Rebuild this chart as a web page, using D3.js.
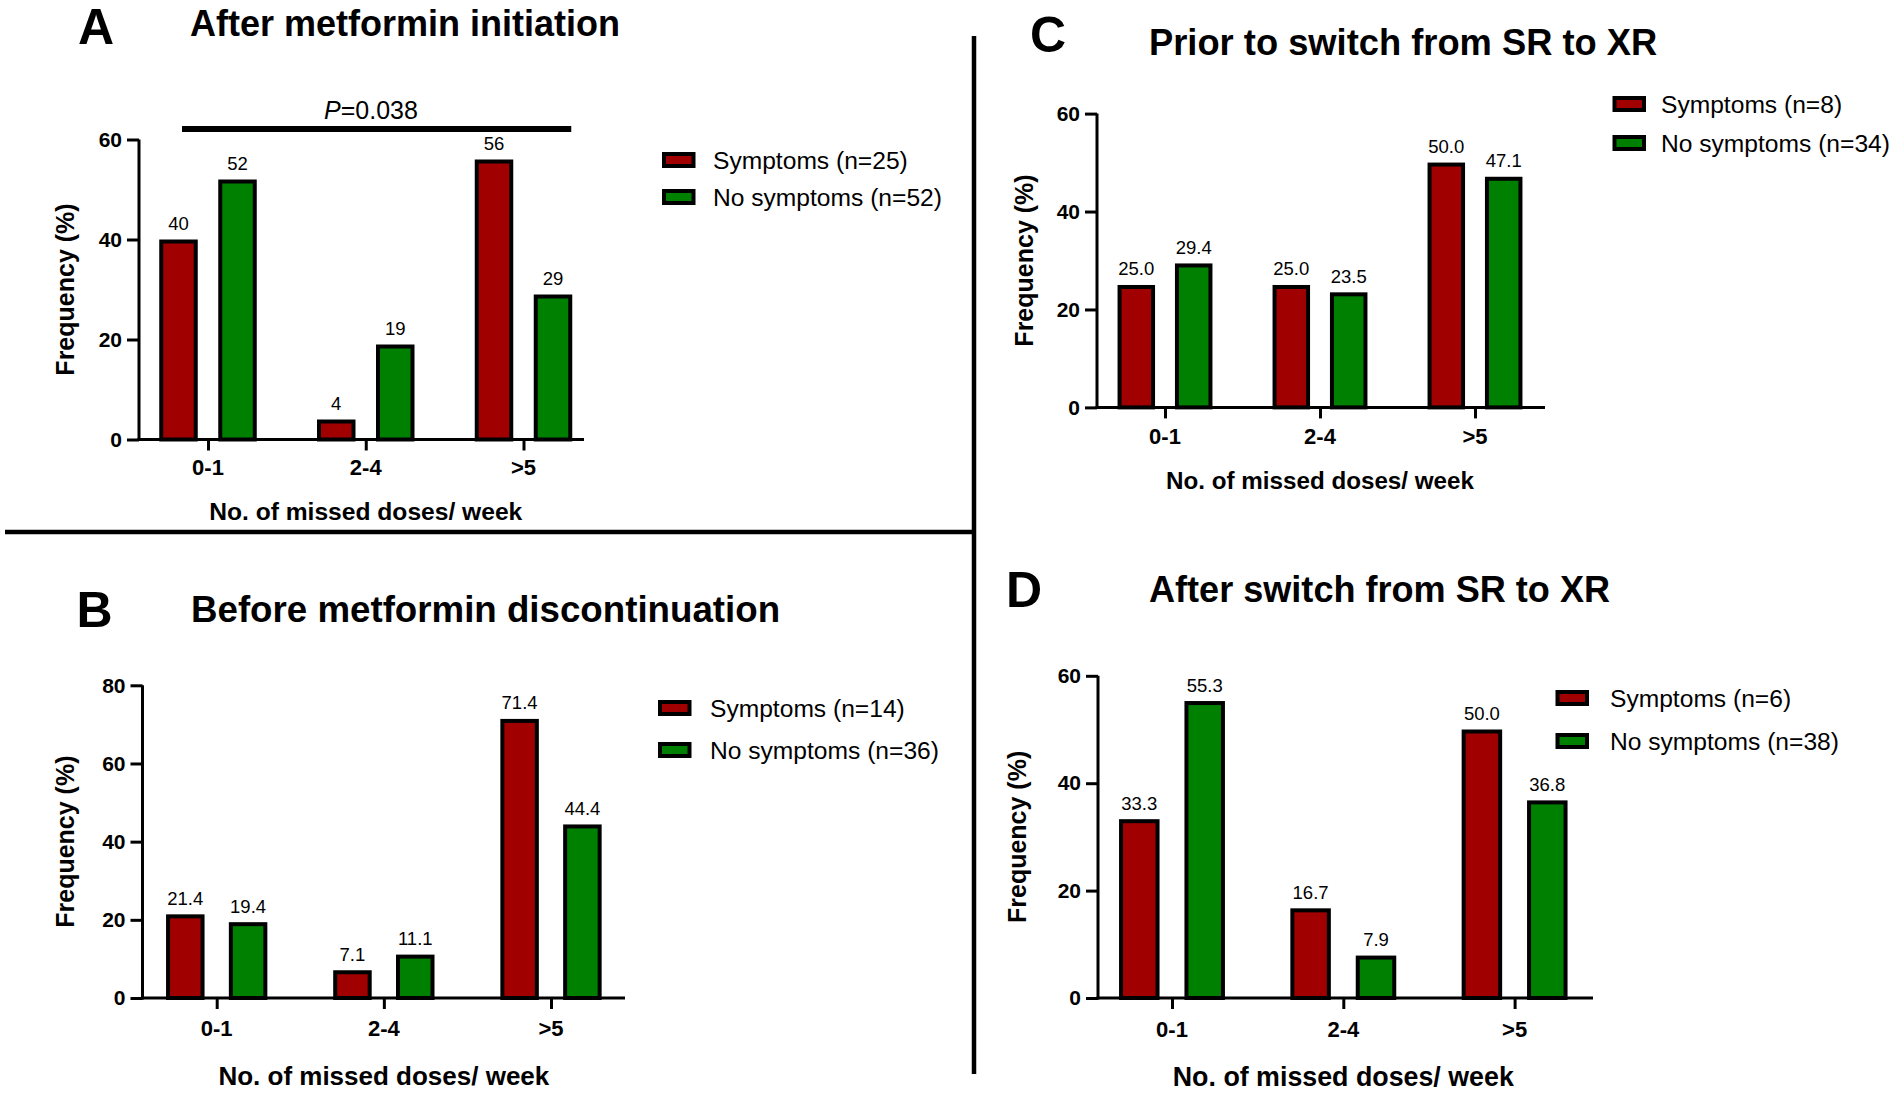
<!DOCTYPE html>
<html>
<head>
<meta charset="utf-8">
<script src="https://cdn.jsdelivr.net/npm/d3@7"></script>
<style>
  html, body { margin: 0; padding: 0; background: #fff; }
  svg { display: block; }
  text { font-family: "Liberation Sans", Arial, sans-serif; fill: #000; }
</style>
</head>
<body>
<svg id="chart" width="1892" height="1093"></svg>
<script>
// ---------------- DATA ----------------
const categories = ["0-1", "2-4", ">5"];

const panelLetters = ["A", "B", "C", "D"];
const panelTitles = [
  "After metformin initiation",
  "Before metformin discontinuation",
  "Prior to switch from SR to XR",
  "After switch from SR to XR"
];

const symptomsA = [40, 4, 56];
const noSymptomsA = [52, 19, 29];
const symptomsB = [21.4, 7.1, 71.4];
const noSymptomsB = [19.4, 11.1, 44.4];
const symptomsC = [25.0, 25.0, 50.0];
const noSymptomsC = [29.4, 23.5, 47.1];
const symptomsD = [33.3, 16.7, 50.0];
const noSymptomsD = [55.3, 7.9, 36.8];

const legendA = ["Symptoms (n=25)", "No symptoms (n=52)"];
const legendB = ["Symptoms (n=14)", "No symptoms (n=36)"];
const legendC = ["Symptoms (n=8)", "No symptoms (n=34)"];
const legendD = ["Symptoms (n=6)", "No symptoms (n=38)"];

const yTicksA = [0, 20, 40, 60];
const yTicksB = [0, 20, 40, 60, 80];
const yTicksC = [0, 20, 40, 60];
const yTicksD = [0, 20, 40, 60];

const pValueA = "0.038";
const yAxisTitle = "Frequency (%)";
const xAxisTitle = "No. of missed doses/ week";

// ---------------- STYLE / LAYOUT ----------------
const RED = "#a00000";
const GREEN = "#008000";

const panels = [
  { letter: panelLetters[0], title: panelTitles[0], s: symptomsA, n: noSymptomsA, legend: legendA, ticks: yTicksA, fmt: d3.format("d"),
    axisX: 139, axisRight: 584, y0: 439.5, yTop: 139.5, c0: 208, c2: 523.5, off: 29.5, bw: 38.5,
    letterX: 78, letterY: 44, titleX: 190, titleY: 36, titleFs: 36,
    legX: 662, legY: [152, 189], legTextX: 713,
    yLabX: 74, catY: 475, xTitleY: 520, xTitleFs: 24.6 },
  { letter: panelLetters[1], title: panelTitles[1], s: symptomsB, n: noSymptomsB, legend: legendB, ticks: yTicksB, fmt: d3.format(".1f"),
    axisX: 142.5, axisRight: 625, y0: 998, yTop: 685.3, c0: 216.7, c2: 551, off: 31.4, bw: 38.5,
    letterX: 76.5, letterY: 627, titleX: 191, titleY: 622, titleFs: 36.7,
    legX: 658, legY: [700, 742], legTextX: 710,
    yLabX: 74, catY: 1035.5, xTitleY: 1085, xTitleFs: 26 },
  { letter: panelLetters[2], title: panelTitles[2], s: symptomsC, n: noSymptomsC, legend: legendC, ticks: yTicksC, fmt: d3.format(".1f"),
    axisX: 1097, axisRight: 1545, y0: 407.4, yTop: 113.6, c0: 1165, c2: 1475, off: 28.7, bw: 37.5,
    letterX: 1030, letterY: 52, titleX: 1149, titleY: 55, titleFs: 36.3,
    legX: 1612.5, legY: [96, 135], legTextX: 1661,
    yLabX: 1033, catY: 444, xTitleY: 489, xTitleFs: 24.2 },
  { letter: panelLetters[3], title: panelTitles[3], s: symptomsD, n: noSymptomsD, legend: legendD, ticks: yTicksD, fmt: d3.format(".1f"),
    axisX: 1098, axisRight: 1593, y0: 998, yTop: 675.8, c0: 1172, c2: 1514.6, off: 32.7, bw: 40.5,
    letterX: 1006, letterY: 607, titleX: 1149, titleY: 602, titleFs: 36.1,
    legX: 1555.5, legY: [690, 733], legTextX: 1610,
    yLabX: 1026, catY: 1036.6, xTitleY: 1086, xTitleFs: 26.8 }
];

const svg = d3.select("#chart");

// separators
svg.append("line").attr("x1", 5).attr("x2", 976).attr("y1", 532).attr("y2", 532)
  .attr("stroke", "#000").attr("stroke-width", 4.5);
svg.append("line").attr("x1", 974).attr("x2", 974).attr("y1", 36).attr("y2", 1074)
  .attr("stroke", "#000").attr("stroke-width", 4.5);

panels.forEach((p, pi) => {
  const g = svg.append("g");
  const yMax = d3.max(p.ticks);
  const y = d3.scaleLinear().domain([0, yMax]).range([p.y0, p.yTop]);
  const x = d3.scalePoint().domain(categories).range([p.c0, p.c2]);
  const series = [
    { key: "s", values: p.s, color: RED, dx: -p.off },
    { key: "n", values: p.n, color: GREEN, dx: p.off }
  ];

  // letter + title
  g.append("text").attr("x", p.letterX).attr("y", p.letterY)
    .attr("font-size", 50).attr("font-weight", "bold").text(p.letter);
  g.append("text").attr("x", p.titleX).attr("y", p.titleY)
    .attr("font-size", p.titleFs).attr("font-weight", "bold").text(p.title);

  // bars
  const sw = 4;
  series.forEach(se => {
    g.selectAll(null).data(categories.map((c, i) => ({ c, v: se.values[i] })))
      .enter().append("rect")
      .attr("x", d => x(d.c) + se.dx - p.bw / 2 + sw / 2)
      .attr("width", p.bw - sw)
      .attr("y", d => y(d.v) + sw / 2)
      .attr("height", d => Math.max(0, y(0) - y(d.v) - sw / 2))
      .attr("fill", se.color)
      .attr("stroke", "#000").attr("stroke-width", sw);
    g.selectAll(null).data(categories.map((c, i) => ({ c, v: se.values[i] })))
      .enter().append("text")
      .attr("x", d => x(d.c) + se.dx)
      .attr("y", d => y(d.v) - 9.5)
      .attr("text-anchor", "middle")
      .attr("font-size", 18.5)
      .text(d => p.fmt(d.v));
  });

  // y axis
  const yAxis = d3.axisLeft(y).tickValues(p.ticks).tickSize(12).tickSizeOuter(0).tickPadding(5).tickFormat(d3.format("d"));
  const ya = g.append("g").attr("transform", `translate(${p.axisX},0)`).call(yAxis);
  ya.select(".domain").remove();
  ya.selectAll(".tick line").attr("stroke", "#000").attr("stroke-width", 3);
  ya.selectAll(".tick text").attr("font-size", 21).attr("font-weight", "bold")
    .attr("font-family", "Liberation Sans, Arial, sans-serif").attr("fill", "#000");
  g.append("line").attr("x1", p.axisX).attr("x2", p.axisX)
    .attr("y1", y(0) + 1.5).attr("y2", y(yMax)).attr("stroke", "#000").attr("stroke-width", 3);

  // x axis
  g.append("line").attr("x1", p.axisX - 1.5).attr("x2", p.axisRight)
    .attr("y1", y(0)).attr("y2", y(0)).attr("stroke", "#000").attr("stroke-width", 3);
  const xAxis = d3.axisBottom(x).tickSize(11).tickSizeOuter(0).tickFormat(() => "");
  const xa = g.append("g").attr("transform", `translate(0,${y(0)})`).call(xAxis);
  xa.select(".domain").remove();
  xa.selectAll(".tick line").attr("stroke", "#000").attr("stroke-width", 3);
  g.selectAll(null).data(categories).enter().append("text")
    .attr("x", d => x(d)).attr("y", p.catY)
    .attr("text-anchor", "middle").attr("font-size", 22).attr("font-weight", "bold")
    .text(d => d);

  // axis titles
  g.append("text").attr("x", x(categories[1])).attr("y", p.xTitleY)
    .attr("text-anchor", "middle").attr("font-size", p.xTitleFs).attr("font-weight", "bold")
    .text(xAxisTitle);
  const ym = (y(0) + y(yMax)) / 2;
  g.append("text").attr("transform", `translate(${p.yLabX},${ym}) rotate(-90)`)
    .attr("text-anchor", "middle").attr("font-size", 25).attr("font-weight", "bold")
    .text(yAxisTitle);

  // legend
  [RED, GREEN].forEach((col, i) => {
    g.append("rect").attr("x", p.legX + 2).attr("y", p.legY[i] + 2)
      .attr("width", 29.5).attr("height", 12)
      .attr("fill", col).attr("stroke", "#000").attr("stroke-width", 4);
    g.append("text").attr("x", p.legTextX).attr("y", p.legY[i] + 16.5)
      .attr("font-size", 24.6).text(p.legend[i]);
  });

  // significance bar (panel A)
  if (pi === 0) {
    const barY = 129;
    g.append("line")
      .attr("x1", x(categories[0]) - 26).attr("x2", x(categories[2]) + p.off + p.bw / 2 - 1)
      .attr("y1", barY).attr("y2", barY).attr("stroke", "#000").attr("stroke-width", 6);
    const t = g.append("text").attr("x", 371).attr("y", 119).attr("text-anchor", "middle").attr("font-size", 25);
    t.append("tspan").attr("font-style", "italic").text("P");
    t.append("tspan").text("=" + pValueA);
  }
});
</script>
</body>
</html>
